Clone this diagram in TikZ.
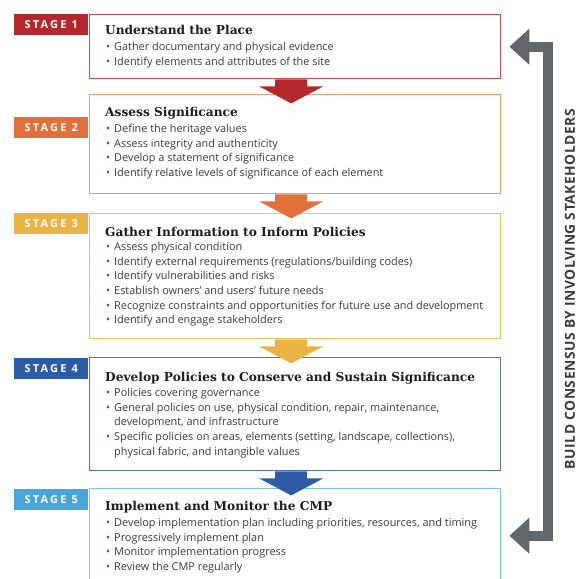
\documentclass[tikz,border=0pt]{standalone}
\usepackage{fontspec}
\usepackage{xcolor}
\usepackage{tikz}
\usetikzlibrary{arrows.meta}

\setmainfont{Open Sans}
\newfontfamily\titlefont{DejaVu Serif}
\newfontfamily\tabfont{Open Sans}[LetterSpace=20]
\newfontfamily\sidefont{Open Sans}[LetterSpace=4]

\definecolor{onetab}{HTML}{B3272D}
\definecolor{oneline}{HTML}{CD4D55}
\definecolor{twotab}{HTML}{E2703A}
\definecolor{twoline}{HTML}{EBA07A}
\definecolor{threetab}{HTML}{E9B443}
\definecolor{threeline}{HTML}{EDC062}
\definecolor{fourtab}{HTML}{2D5CA6}
\definecolor{fourline}{HTML}{5473B4}
\definecolor{fivetab}{HTML}{47A7DB}
\definecolor{fiveline}{HTML}{7CC8EA}
\definecolor{backgrey}{HTML}{62676C}
\definecolor{bodygrey}{HTML}{3C3C3C}
\definecolor{titlegrey}{HTML}{1E1E1E}
\definecolor{bulletred}{HTML}{C0272D}

\newcommand\bul{\makebox[8pt][l]{\textcolor{bulletred}{\textbullet}}}
\newcommand\cnt{\hspace*{8pt}}
% chevron under a stage box
\newcommand\stagearrow[2]{\fill[#1] ([xshift=-20pt]#2.south) -- ++(0,7) -- ++(-16,0)
  -- ++(32,17) -- ++(32,-17) -- ++(-16,0) -- ++(0,-7) -- cycle;}

\begin{document}
\begin{tikzpicture}[x=1pt,y=-1pt,
  tab/.style={fill=#1, text=white, minimum width=74pt, minimum height=21pt,
    inner sep=0, anchor=north west, font=\tabfont\bfseries\fontsize{11}{12}\selectfont},
  stagebox/.style={draw=#1, line width=1.4pt, fill=white, inner sep=0,
    minimum width=411pt, anchor=north west},
  title/.style={anchor=west, inner sep=0, text=titlegrey,
    font=\titlefont\bfseries\fontsize{12.2}{14}\selectfont},
  items/.style={anchor=north west, inner sep=0, align=left, text=bodygrey,
    font=\fontsize{10.9}{14.7}\selectfont},
  back/.style={line width=10pt, draw=backgrey,
    {Triangle[length=20pt,width=35pt]}-{Triangle[length=20pt,width=35pt]}}]
\useasboundingbox (0,0) rectangle (582,579);

\node[stagebox=oneline, minimum height=64pt] (box1) at (89,14) {};
\node[stagebox=twoline, minimum height=99pt] (box2) at (89,94) {};
\node[stagebox=threeline, minimum height=125pt] (box3) at (89,213) {};
\node[stagebox=fourline, minimum height=113pt] (box4) at (89,357) {};
\node[stagebox=fiveline, minimum height=94pt] (box5) at (89,488) {};

\node[tab=onetab] (tab1) at (14,14) {STAGE 1};
\node[tab=twotab] (tab2) at (14,117) {STAGE 2};
\node[tab=threetab] (tab3) at (14,213) {STAGE 3};
\node[tab=fourtab] (tab4) at (14,358) {STAGE 4};
\node[tab=fivetab] (tab5) at (14,489) {STAGE 5};

\stagearrow{onetab}{box1}
\stagearrow{twotab}{box2}
\stagearrow{threetab}{box3}
\stagearrow{fourtab}{box4}

\node[title] (title1) at (105,30) {Understand the Place};
\node[items] (list1) at (106,42) {\bul Gather documentary and physical evidence\\
  \bul Identify elements and attributes of the site};

\node[title] (title2) at (105,113) {Assess Significance};
\node[items] (list2) at (106,124) {\bul Define the heritage values\\
  \bul Assess integrity and authenticity\\
  \bul Develop a statement of significance\\
  \bul Identify relative levels of significance of each element};

\node[title] (title3) at (105,232) {Gather Information to Inform Policies};
\node[items] (list3) at (106,242) {\bul Assess physical condition\\
  \bul Identify external requirements (regulations/building codes)\\
  \bul Identify vulnerabilities and risks\\
  \bul Establish owners' and users' future needs\\
  \bul Recognize constraints and opportunities for future use and development\\
  \bul Identify and engage stakeholders};

\node[title] (title4) at (105,378) {Develop Policies to Conserve and Sustain Significance};
\node[items] (list4) at (106,388) {\bul Policies covering governance\\
  \bul General policies on use, physical condition, repair, maintenance,\\
  \cnt development, and infrastructure\\
  \bul Specific policies on areas, elements (setting, landscape, collections),\\
  \cnt physical fabric, and intangible values};

\node[title] (title5) at (105,507) {Implement and Monitor the CMP};
\node[items] (list5) at (106,518) {\bul Develop implementation plan including priorities, resources, and timing\\
  \bul Progressively implement plan\\
  \bul Monitor implementation progress\\
  \bul Review the CMP regularly};

% feedback loop on the right
\draw[back] ([xshift=8pt]box5.east) -- ++(39,0) |- ([xshift=8pt]box1.east);
\node[rotate=90, text=bodygrey, font=\sidefont\bfseries\fontsize{13.8}{15}\selectfont]
  (consensus) at (570,289) {BUILD CONSENSUS BY INVOLVING STAKEHOLDERS};
\end{tikzpicture}
\end{document}
